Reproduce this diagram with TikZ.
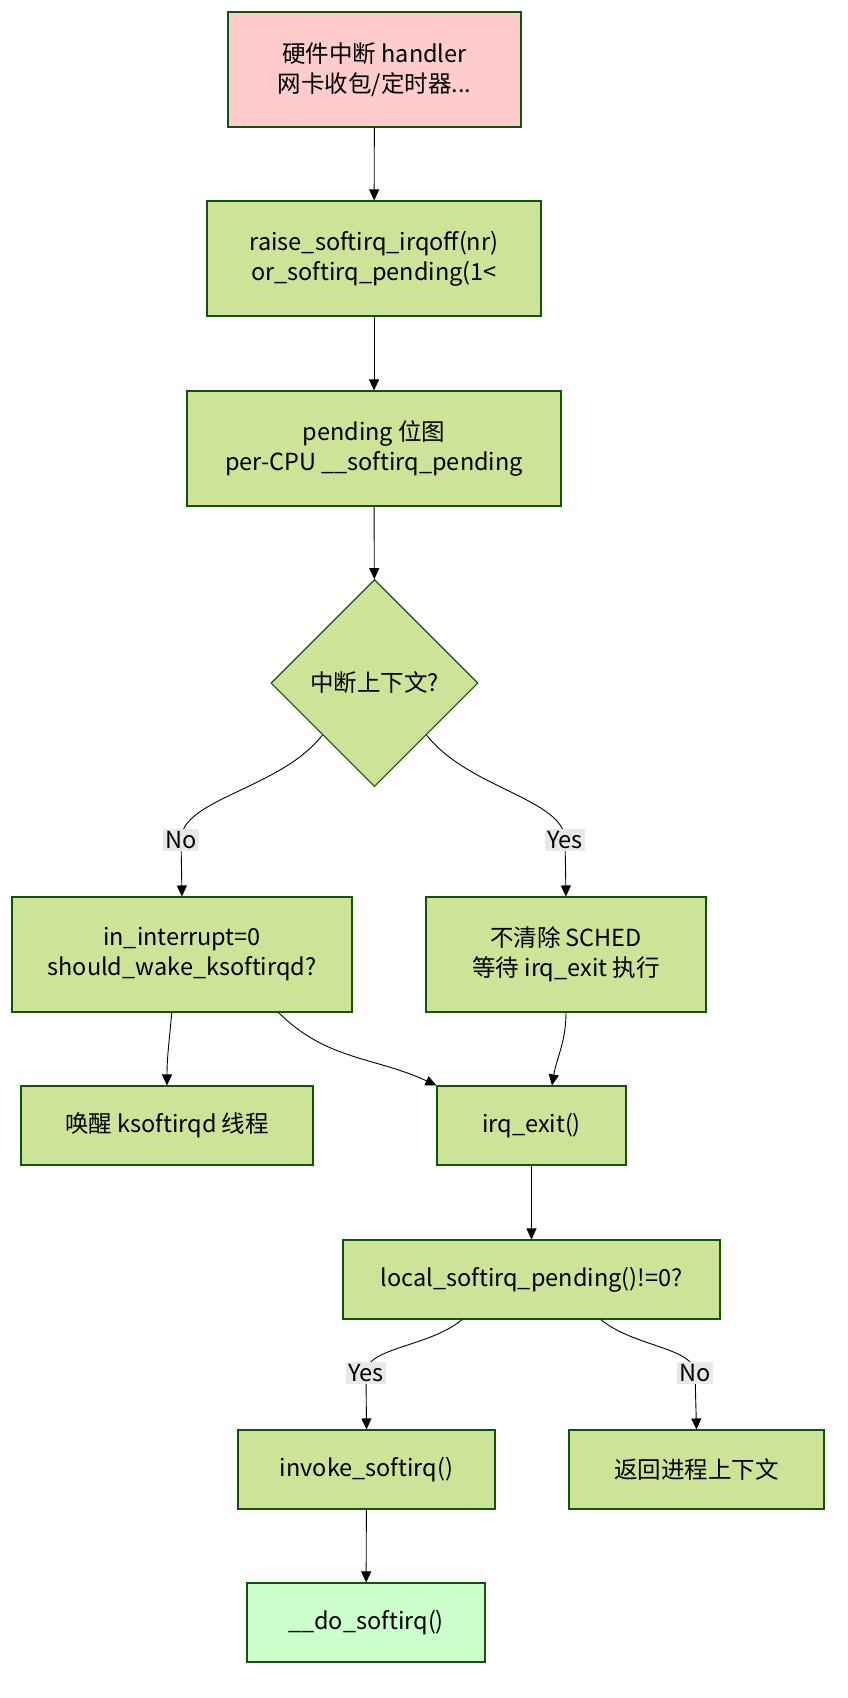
\documentclass[tikz,border=0pt]{standalone}
\usepackage{fontspec}
\setmainfont{Noto Sans CJK SC}
\usetikzlibrary{shapes.geometric,arrows.meta}
\definecolor{leaf}{HTML}{CDE498}
\definecolor{leafline}{HTML}{13540C}
\definecolor{rose}{HTML}{FFCCCC}
\definecolor{mint}{HTML}{CCFFCC}
\definecolor{tag}{HTML}{E8E8E8}
\tikzset{
    box/.style={draw=leafline, fill=leaf, line width=1.1pt, inner sep=0pt, align=center,
        font=\fontsize{23.5}{30}\selectfont},
    flow/.style={-{Triangle[length=11pt,width=10pt]}, line width=0.9pt},
    tagbox/.style={fill=tag, inner sep=2.5pt, font=\fontsize{23.5}{26}\selectfont}
}

\begin{document}
\begin{tikzpicture}[x=1pt,y=1pt]
    \useasboundingbox (0,0) rectangle (848,-1698);
    \def \tall {115}
    \def \short {79}

    \node[box, fill=rose, minimum width=293, minimum height=\tall] (hw) at (374.5,-69.5)
        {硬件中断 handler\\网卡收包/定时器...};
    \node[box, minimum width=334, minimum height=\tall] (raise) at (374,-258.5)
        {raise\_softirq\_irqoff(nr)\\or\_softirq\_pending(1<};
    \node[box, minimum width=374, minimum height=\tall] (pend) at (374,-448.5)
        {pending 位图\\per-CPU \_\_softirq\_pending};
    \node[box, diamond, aspect=1, minimum width=207, minimum height=207] (ctx) at (374.5,-683)
        {中断上下文?};

    \node[box, minimum width=340, minimum height=\tall] (inint) at (182,-954.5)
        {in\_interrupt=0\\should\_wake\_ksoftirqd?};
    \node[box, minimum width=280, minimum height=\tall] (nosched) at (566,-954.5)
        {不清除 SCHED\\等待 irq\_exit 执行};
    \node[box, minimum width=292, minimum height=\short] (wake) at (167,-1125.5)
        {唤醒 ksoftirqd 线程};
    \node[box, minimum width=189, minimum height=\short] (irqexit) at (531.5,-1125.5)
        {irq\_exit()};
    \node[box, minimum width=377, minimum height=\short] (local) at (531.5,-1279.5)
        {local\_softirq\_pending()!=0?};
    \node[box, minimum width=257, minimum height=\short] (invoke) at (366.5,-1469.5)
        {invoke\_softirq()};
    \node[box, minimum width=255, minimum height=\short] (ret) at (696.5,-1469.5)
        {返回进程上下文};
    \node[box, fill=mint, minimum width=238, minimum height=\short] (dosoft) at (366,-1622.5)
        {\_\_do\_softirq()};

    \coordinate (noA) at (181,-840);
    \coordinate (yesA) at (565,-840);
    \coordinate (yesB) at (366,-1373);
    \coordinate (noB) at (695,-1373);

    \draw[flow] (hw) -- (raise);
    \draw[flow] (raise) -- (pend);
    \draw[flow] (pend) -- (ctx);
    \draw[flow] (ctx.south west) to[out=-128,in=90,in looseness=0.6] (noA) -- (inint.north);
    \draw[flow] (ctx.south east) to[out=-52,in=90,in looseness=0.6] (yesA) -- (nosched.north);
    \draw[flow] (inint.-100) to[out=-95,in=90] (wake.north);
    \draw[flow] (inint.-31) to[out=-45,in=155] (irqexit.north west);
    \draw[flow] (nosched.south) to[out=-90,in=80] (irqexit.63);
    \draw[flow] (irqexit) -- (local);
    \draw[flow] (local.-150) to[out=-140,in=90,in looseness=0.6] (yesB) -- (invoke.north);
    \draw[flow] (local.-30) to[out=-40,in=90,in looseness=0.6] (noB) -- (ret.north);
    \draw[flow] (invoke) -- (dosoft);

    \node[tagbox] (no1) at (noA) {No};
    \node[tagbox] (yes1) at (yesA) {Yes};
    \node[tagbox] (yes2) at (yesB) {Yes};
    \node[tagbox] (no2) at (noB) {No};
\end{tikzpicture}
\end{document}
